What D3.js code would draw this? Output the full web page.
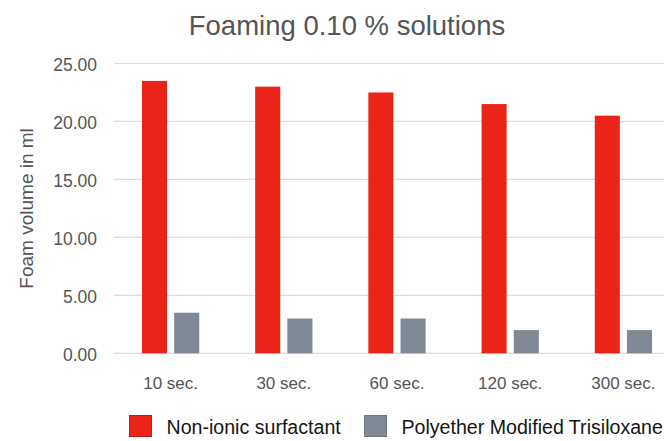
<!DOCTYPE html>
<html>
<head>
<meta charset="utf-8">
<script src="https://cdn.jsdelivr.net/npm/d3@7"></script>
<style>
  html, body { margin: 0; padding: 0; background: #fff; }
  svg { display: block; font-family: "Liberation Sans", Arial, sans-serif; }
</style>
</head>
<body>
<svg id="chart" width="664" height="441"></svg>
<script>
// Foam volume after shaking, per elapsed time
const categories = ["10 sec.", "30 sec.", "60 sec.", "120 sec.", "300 sec."];
const seriesNames = ["Non-ionic surfactant", "Polyether Modified Trisiloxane"];
const nonIonic = [23.5, 23.0, 22.5, 21.5, 20.5];
const trisiloxane = [3.5, 3.0, 3.0, 2.0, 2.0];
const yTicks = [0, 5, 10, 15, 20, 25];
const colors = ["#eb2419", "#7e8995"];
const strokes = ["#c21d15", "#6f7a86"];

const seriesValues = [nonIonic, trisiloxane];
const rows = categories.map((c, i) => ({ cat: c, vals: seriesValues.map(s => s[i]) }));

const svg = d3.select("#chart");
const margin = { left: 114, right: -16, top: 63.5, bottom: 87.7 };
const W = 664, H = 441;
const FONT = "'Liberation Sans', Arial, sans-serif";

const x0 = d3.scaleBand().domain(categories)
  .range([margin.left, W - margin.right]).paddingInner(0.494).paddingOuter(0.247);
const x1 = d3.scaleBand().domain(d3.range(seriesNames.length))
  .range([0, x0.bandwidth()]).paddingInner(0.22);
const y = d3.scaleLinear().domain([0, 25]).range([H - margin.bottom, margin.top]);

// Title
svg.append("text").attr("x", 347).attr("y", 35)
  .attr("text-anchor", "middle").attr("font-size", 27.5).attr("fill", "#555")
  .text("Foaming 0.10 % solutions");

// Horizontal gridlines
svg.append("g").selectAll("line").data(yTicks).join("line")
  .attr("x1", margin.left).attr("x2", W - margin.right)
  .attr("y1", d => y(d)).attr("y2", d => y(d))
  .attr("stroke", "#dcdcdc").attr("stroke-width", 1.2);

// Y axis labels
const yAxis = d3.axisLeft(y).tickValues(yTicks).tickFormat(d3.format(".2f")).tickSize(0).tickPadding(17);
const gy = svg.append("g").attr("transform", `translate(${margin.left},0)`).call(yAxis);
gy.select(".domain").remove();
gy.selectAll("text").attr("font-size", 17.5).attr("fill", "#555").attr("font-family", FONT)
  .attr("dy", "0.4em");

// X axis labels
const xAxis = d3.axisBottom(x0).tickSize(0).tickPadding(24);
const gx = svg.append("g").attr("transform", `translate(0,${y(0)})`).call(xAxis);
gx.select(".domain").remove();
gx.selectAll("text").attr("font-size", 17).attr("fill", "#555").attr("font-family", FONT);

// Y axis title
svg.append("text")
  .attr("transform", `translate(33,${(y(0) + y(25)) / 2}) rotate(-90)`)
  .attr("text-anchor", "middle").attr("font-size", 19).attr("fill", "#555")
  .text("Foam volume in ml");

// Bars
const groups = svg.append("g").selectAll("g").data(rows).join("g")
  .attr("transform", d => `translate(${x0(d.cat)},0)`);
groups.selectAll("rect").data(d => d.vals.map((v, i) => ({ v, i }))).join("rect")
  .attr("x", d => x1(d.i)).attr("width", x1.bandwidth())
  .attr("y", d => y(d.v)).attr("height", d => y(0) - y(d.v))
  .attr("fill", d => colors[d.i]);

// Legend
const legendX = [129, 364];
const lg = svg.append("g").selectAll("g").data(seriesNames).join("g")
  .attr("transform", (d, i) => `translate(${legendX[i]},415)`);
lg.append("rect").attr("x", 0.5).attr("y", 0.5).attr("width", 22).attr("height", 21)
  .attr("fill", (d, i) => colors[i]).attr("stroke", (d, i) => strokes[i]);
lg.append("text").attr("x", 37.5).attr("y", 19).attr("font-size", 19.6).attr("fill", "#151515")
  .text(d => d);
</script>
</body>
</html>
